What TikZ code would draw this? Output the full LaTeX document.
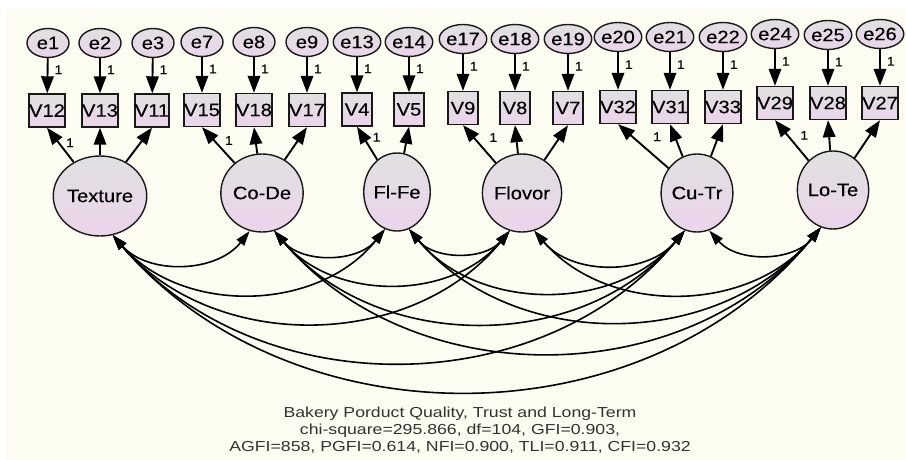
\documentclass[tikz,border=0pt]{standalone}
\usepackage{fontspec}
\setmainfont{Liberation Sans}
\newfontfamily\labf{Liberation Sans}[FakeStretch=1.12,FakeBold=0.25]
\newfontfamily\capf{Liberation Sans}[FakeStretch=1.22]
\usetikzlibrary{shapes.geometric,arrows.meta}
\definecolor{cream}{RGB}{253,253,242}
\definecolor{topg}{RGB}{224,224,224}
\definecolor{botp}{RGB}{236,212,236}
\definecolor{capc}{RGB}{50,50,50}
\begin{document}
\begin{tikzpicture}[x=1pt,y=1pt,
  base/.style={draw=black!90, line width=1.4pt, top color=topg, bottom color=botp, inner sep=0pt,
    font=\labf\fontsize{18}{18}\selectfont},
  err/.style={base, ellipse, minimum width=42pt, minimum height=29pt},
  obs/.style={base, rectangle, minimum width=30pt, minimum height=33pt},
  lat/.style={base, ellipse, minimum width=60pt, minimum height=78pt},
  arr/.style={line width=1.9pt, -{Triangle[length=17pt,width=12.5pt]}},
  cov/.style={line width=1.6pt, {Triangle[length=15pt,width=9.5pt]}-{Triangle[length=15pt,width=9.5pt]}},
  one/.style={font=\labf\fontsize{12.5}{12.5}\selectfont, inner sep=0pt, anchor=west},
]
\useasboundingbox (0,0) rectangle (906,-460);
\fill[white] (0,0) rectangle (906,-460);
\fill[cream] (6,-9) rectangle (906,-460);

% group 1
\node[err] (e1) at (48,-43) {e1};
\node[err] (e2) at (100,-43) {e2};
\node[err] (e3) at (153,-43) {e3};
\node[obs] (V12) at (47,-110.5) {V12};
\node[obs] (V13) at (100,-110.5) {V13};
\node[obs] (V11) at (152,-110.5) {V11};
\node[lat, minimum height=80pt] (Tex) at (100,-196) {Texture};
% group 2
\node[err] (e7) at (202,-42) {e7};
\node[err] (e8) at (254,-42) {e8};
\node[err] (e9) at (307,-42) {e9};
\node[obs] (V15) at (202,-110) {V15};
\node[obs] (V18) at (254,-110) {V18};
\node[obs] (V17) at (307,-110) {V17};
\node[lat] (CoDe) at (262,-193) {Co-De};
% group 3
\node[err] (e13) at (357,-42) {e13};
\node[err] (e14) at (409,-42) {e14};
\node[obs] (V4) at (357,-109.5) {V4};
\node[obs] (V5) at (409,-109.5) {V5};
\node[lat] (FlFe) at (397,-192) {Fl-Fe};
% group 4
\node[err] (e17) at (463,-39) {e17};
\node[err] (e18) at (515,-39) {e18};
\node[err] (e19) at (568,-39) {e19};
\node[obs] (V9) at (463,-108) {V9};
\node[obs] (V8) at (515,-108) {V8};
\node[obs] (V7) at (568,-108) {V7};
\node[lat] (Flo) at (522,-193) {Flovor};
% group 5
\node[err] (e20) at (618,-37) {e20};
\node[err] (e21) at (670,-37) {e21};
\node[err] (e22) at (723,-37) {e22};
\node[obs] (V32) at (618,-107) {V32};
\node[obs] (V31) at (670,-107) {V31};
\node[obs] (V33) at (723,-107) {V33};
\node[lat] (CuTr) at (697,-193) {Cu-Tr};
% group 6
\node[err] (e24) at (775,-34) {e24};
\node[err] (e25) at (828,-35) {e25};
\node[err] (e26) at (880,-34) {e26};
\node[obs] (V29) at (775,-103) {V29};
\node[obs] (V28) at (828,-103) {V28};
\node[obs] (V27) at (880,-103) {V27};
\node[lat] (LoTe) at (833,-190) {Lo-Te};

% error arrows
\foreach \e/\v in {e1/V12,e2/V13,e3/V11,e7/V15,e8/V18,e9/V17,e13/V4,e14/V5,e17/V9,e18/V8,e19/V7,e20/V32,e21/V31,e22/V33,e24/V29,e25/V28,e26/V27}
  \draw[arr] (\e) -- node[one, pos=0.33, xshift=6pt] {1} (\v);

% loadings
\draw[arr] (Tex) -- node[one, pos=0.62, xshift=8pt, yshift=-2pt] {1} (V12.south);
\draw[arr] (Tex) -- (V13.south);
\draw[arr] (Tex) -- (V11.south);
\draw[arr] (CoDe) -- node[one, pos=0.6, xshift=9pt, yshift=1pt] {1} (V15.south);
\draw[arr] (CoDe) -- (V18.south);
\draw[arr] (CoDe) -- (V17.south);
\draw[arr] (FlFe) -- node[one, pos=0.62, xshift=7pt, yshift=2pt] {1} (V4.south);
\draw[arr] (FlFe) -- (V5.south);
\draw[arr] (Flo) -- node[one, pos=0.62, xshift=13pt, yshift=2pt] {1} (V9.south);
\draw[arr] (Flo) -- (V8.south);
\draw[arr] (Flo) -- (V7.south);
\draw[arr] (CuTr) -- node[one, pos=0.6, xshift=14pt, yshift=5pt] {1} (V32.south);
\draw[arr] (CuTr) -- (V31.south);
\draw[arr] (CuTr) -- (V33.south);
\draw[arr] (LoTe) -- node[one, pos=0.6, xshift=11pt, yshift=1pt] {1} (V29.south);
\draw[arr] (LoTe) -- (V28.south);
\draw[arr] (LoTe) -- (V27.south);

% covariances
\foreach \a/\b in {Tex/CoDe,Tex/FlFe,Tex/Flo,Tex/CuTr,Tex/LoTe,
                   CoDe/FlFe,CoDe/Flo,CoDe/CuTr,CoDe/LoTe,
                   FlFe/Flo,FlFe/CuTr,FlFe/LoTe,
                   Flo/CuTr,Flo/LoTe,
                   CuTr/LoTe}
  \draw[cov] (\a.-72) to[bend right=50] (\b.-108);

% caption
\node[font=\capf\fontsize{14.5}{17}\selectfont, text=capc, align=center] (cap) at (460,-430)
  {Bakery Porduct Quality, Trust and Long-Term\\
   chi-square=295.866, df=104, GFI=0.903,\\
   AGFI=858, PGFI=0.614, NFI=0.900, TLI=0.911, CFI=0.932};
\end{tikzpicture}
\end{document}
